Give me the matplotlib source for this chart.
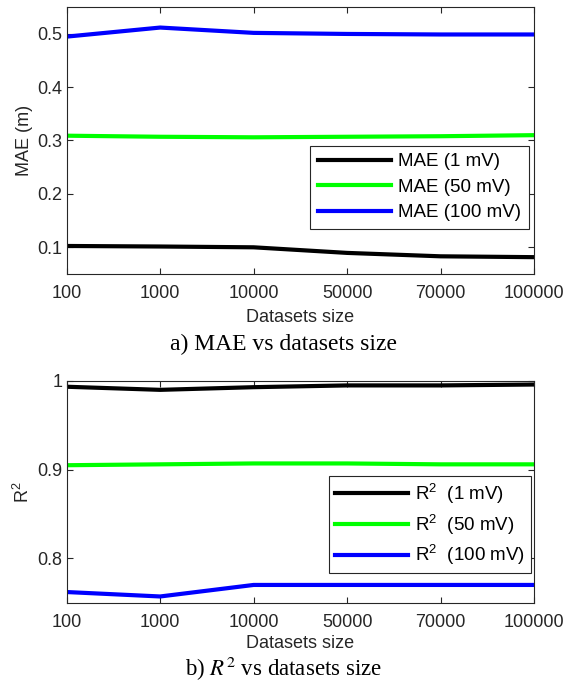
import matplotlib
matplotlib.use('Agg')
import matplotlib.pyplot as plt
import numpy as np

# data
sizes = ['100', '1000', '10000', '50000', '70000', '100000']

mae_1mv = [0.102, 0.101, 0.0995, 0.089, 0.0826, 0.081]
mae_50mv = [0.309, 0.307, 0.306, 0.307, 0.308, 0.310]
mae_100mv = [0.495, 0.512, 0.502, 0.500, 0.499, 0.499]

r2_1mv = [0.9935, 0.990, 0.993, 0.995, 0.995, 0.996]
r2_50mv = [0.905, 0.906, 0.907, 0.907, 0.906, 0.906]
r2_100mv = [0.762, 0.757, 0.770, 0.770, 0.770, 0.770]

plt.rcParams['font.family'] = ['Liberation Sans', 'DejaVu Sans']
plt.rcParams['mathtext.fontset'] = 'custom'
plt.rcParams['mathtext.rm'] = 'Liberation Sans'
plt.rcParams['mathtext.it'] = 'Liberation Sans:italic'

dark = '#262626'
colors = ['#000000', '#00ff00', '#0000ff']
x = np.arange(len(sizes))

fig = plt.figure(figsize=(5.67, 6.83), dpi=100)
ax1 = fig.add_axes([0.1176, 0.5993, 0.8242, 0.39])
ax2 = fig.add_axes([0.1176, 0.1176, 0.8242, 0.3246])


def style(ax, lpad):
    ax.set_xlim(0, len(sizes) - 1)
    ax.set_xticks(x)
    ax.set_xticklabels(sizes)
    ax.tick_params(direction='in', length=4, width=0.8, colors=dark,
                   labelsize=13, top=True, right=True)
    ax.tick_params(axis='x', pad=8)
    ax.tick_params(axis='y', pad=3)
    for s in ax.spines.values():
        s.set_color(dark)
        s.set_linewidth(0.8)
    ax.set_xlabel('Datasets size', fontsize=13, color=dark, labelpad=lpad)


for vals, c, lab in zip([mae_1mv, mae_50mv, mae_100mv], colors,
                        ['MAE (1 mV)', 'MAE (50 mV)', 'MAE (100 mV)']):
    ax1.plot(x, vals, color=c, lw=3, label=lab, solid_joinstyle='round')
style(ax1, 5)
ax1.set_ylim(0.05, 0.55)
ax1.set_yticks([0.1, 0.2, 0.3, 0.4, 0.5])
ax1.set_yticklabels(['0.1', '0.2', '0.3', '0.4', '0.5'])
ax1.set_ylabel('MAE (m)', fontsize=13, color=dark, labelpad=3)
leg1 = ax1.legend(loc='upper right', bbox_to_anchor=(0.989, 0.4805),
                  borderaxespad=0, fontsize=13.5, handlelength=3.9,
                  labelspacing=0.45, fancybox=False, framealpha=1,
                  edgecolor=dark, handletextpad=0.4, borderpad=0.4)
leg1.get_frame().set_linewidth(0.8)

for vals, c, lab in zip([r2_1mv, r2_50mv, r2_100mv], colors,
                        ['R$^2$  (1 mV)', 'R$^2$  (50 mV)', 'R$^2$  (100 mV)']):
    ax2.plot(x, vals, color=c, lw=3, label=lab, solid_joinstyle='round')
style(ax2, 3)
ax2.set_ylim(0.75, 1.0)
ax2.set_yticks([0.8, 0.9, 1.0])
ax2.set_yticklabels(['0.8', '0.9', '1'])
ax2.set_ylabel('R$^2$', fontsize=13, color=dark, labelpad=3)
leg2 = ax2.legend(loc='lower right', bbox_to_anchor=(0.9936, 0.134),
                  borderaxespad=0, fontsize=13.5, handlelength=3.9,
                  labelspacing=0.35, fancybox=False, framealpha=1,
                  edgecolor=dark, handletextpad=0.4, borderpad=0.3)
leg2.get_frame().set_linewidth(0.8)

fig.text(0.5, 0.4876, 'a) MAE vs datasets size', ha='center', va='baseline',
         fontsize=17, family='Liberation Serif')
fig.text(0.5, 0.0105, 'b) $R^2$ vs datasets size', ha='center', va='baseline',
         fontsize=16.5, family='Liberation Serif', math_fontfamily='stix')

fig.savefig('out.png', dpi=100)
